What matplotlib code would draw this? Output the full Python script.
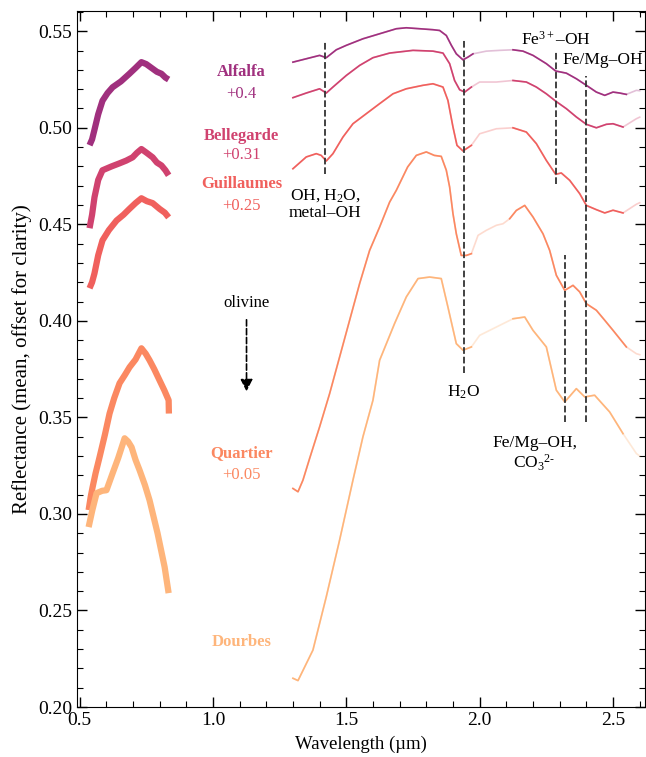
import numpy as np
import matplotlib.pyplot as plt
from matplotlib.ticker import MultipleLocator, FormatStrFormatter

plt.rcParams['font.family'] = 'Liberation Serif'
plt.rcParams['mathtext.fontset'] = 'custom'
plt.rcParams['mathtext.rm'] = 'Liberation Serif'
plt.rcParams['mathtext.it'] = 'Liberation Serif:italic'
plt.rcParams['mathtext.bf'] = 'Liberation Serif:bold'

names = ['Alfalfa', 'Bellegarde', 'Guillaumes', 'Quartier', 'Dourbes']
offsets = ['+0.4', '+0.31', '+0.25', '+0.05', '']
colors = ['#a0307e', '#d0426f', '#f0605d', '#fb8861', '#feb57b']

# VNIR part (noisy, drawn thick)
vnir_x = {
    'Alfalfa':    [0.5375, 0.547, 0.556, 0.57, 0.586, 0.605, 0.624, 0.655, 0.687, 0.71, 0.732, 0.75,
                   0.77, 0.79, 0.807, 0.822, 0.834],
    'Bellegarde': [0.5375, 0.547, 0.556, 0.57, 0.586, 0.62, 0.65, 0.675, 0.699, 0.715, 0.732, 0.752,
                   0.774, 0.79, 0.807, 0.822, 0.834],
    'Guillaumes': [0.5375, 0.547, 0.556, 0.57, 0.586, 0.61, 0.639, 0.665, 0.687, 0.71, 0.732, 0.752,
                   0.774, 0.80, 0.82, 0.834],
    'Quartier':   [0.534, 0.542, 0.549, 0.56, 0.575, 0.595, 0.6125, 0.63, 0.65, 0.67, 0.6875, 0.71,
                   0.732, 0.748, 0.7625, 0.78, 0.80, 0.818, 0.834, 0.835],
    'Dourbes':    [0.534, 0.548, 0.564, 0.585, 0.601, 0.624, 0.645, 0.669, 0.682, 0.695, 0.71, 0.725,
                   0.745, 0.7625, 0.7925, 0.819, 0.834],
}
vnir_y = {
    'Alfalfa':    [0.491, 0.494, 0.499, 0.507, 0.514, 0.518, 0.521, 0.524, 0.528, 0.531, 0.534, 0.533,
                   0.531, 0.529, 0.528, 0.526, 0.525],
    'Bellegarde': [0.448, 0.455, 0.464, 0.473, 0.478, 0.480, 0.4816, 0.483, 0.4847, 0.487, 0.489, 0.487,
                   0.4847, 0.482, 0.4805, 0.478, 0.4754],
    'Guillaumes': [0.4169, 0.420, 0.4246, 0.434, 0.4417, 0.447, 0.452, 0.455, 0.458, 0.461, 0.4635, 0.462,
                   0.461, 0.458, 0.456, 0.4536],
    'Quartier':   [0.302, 0.309, 0.3139, 0.321, 0.3294, 0.341, 0.352, 0.360, 0.3677, 0.372, 0.376, 0.380,
                   0.3858, 0.383, 0.3796, 0.375, 0.3692, 0.364, 0.3589, 0.352],
    'Dourbes':    [0.2932, 0.302, 0.3108, 0.312, 0.3123, 0.3211, 0.329, 0.3392, 0.3375, 0.3346, 0.328,
                   0.3227, 0.315, 0.3071, 0.290, 0.2725, 0.259],
}

# SWIR part
swir_x = {
    'Alfalfa':    [1.30, 1.40, 1.425, 1.4625, 1.50, 1.5625, 1.625, 1.6875, 1.725, 1.775, 1.825, 1.85,
                   1.875, 1.894, 1.9125, 1.9375, 1.956, 1.975, 2.025, 2.075, 2.125, 2.1625, 2.20, 2.25,
                   2.285, 2.325, 2.3625, 2.40, 2.4375, 2.469, 2.50, 2.525, 2.55, 2.5875, 2.60],
    'Bellegarde': [1.30, 1.35, 1.40, 1.425, 1.45, 1.50, 1.55, 1.60, 1.6625, 1.75, 1.825, 1.8625,
                   1.8875, 1.906, 1.925, 1.944, 1.969, 2.0, 2.0625, 2.125, 2.175, 2.2125, 2.25, 2.285,
                   2.325, 2.3625, 2.40, 2.4375, 2.475, 2.50, 2.5375, 2.5875, 2.60],
    'Guillaumes': [1.30, 1.35, 1.3875, 1.406, 1.425, 1.45, 1.4875, 1.525, 1.575, 1.625, 1.675, 1.725,
                   1.7875, 1.825, 1.8625, 1.881, 1.90, 1.915, 1.9375, 1.969, 2.0, 2.0625, 2.125, 2.175,
                   2.2125, 2.25, 2.285, 2.306, 2.3375, 2.375, 2.40, 2.4375, 2.469, 2.50, 2.5375, 2.5875,
                   2.60],
    'Quartier':   [1.30, 1.319, 1.3375, 1.3625, 1.40, 1.4375, 1.475, 1.5125, 1.55, 1.5875, 1.625, 1.6625,
                   1.6875, 1.73, 1.7625, 1.80, 1.83, 1.856, 1.875, 1.8875, 1.90, 1.9125, 1.931, 1.95,
                   1.969, 1.994, 2.025, 2.0625, 2.0875, 2.1125, 2.1375, 2.169, 2.20, 2.2375, 2.2625,
                   2.2875, 2.319, 2.35, 2.375, 2.40, 2.4375, 2.469, 2.50, 2.55, 2.5875, 2.60],
    'Dourbes':    [1.30, 1.319, 1.375, 1.425, 1.475, 1.525, 1.5625, 1.60, 1.625, 1.681, 1.725, 1.769,
                   1.8125, 1.856, 1.881, 1.9125, 1.9375, 1.969, 2.0, 2.0625, 2.125, 2.169, 2.20, 2.25,
                   2.2875, 2.319, 2.3625, 2.394, 2.431, 2.4875, 2.5375, 2.5875, 2.60],
}
swir_y = {
    'Alfalfa':    [0.5340, 0.5375, 0.5363, 0.5404, 0.5427, 0.5461, 0.5487, 0.5513, 0.5518, 0.5513, 0.5508,
                   0.5504, 0.5478, 0.5427, 0.5383, 0.5352, 0.5366, 0.5383, 0.5397, 0.5401, 0.5404, 0.5397,
                   0.5375, 0.5332, 0.5294, 0.5283, 0.5254, 0.5220, 0.5185, 0.5168, 0.5185, 0.5180, 0.5173,
                   0.5194, 0.5192],
    'Bellegarde': [0.5156, 0.5180, 0.5202, 0.5180, 0.5211, 0.5271, 0.5323, 0.5363, 0.5387, 0.5401, 0.5397,
                   0.5387, 0.5332, 0.5245, 0.5197, 0.5185, 0.5211, 0.5237, 0.5237, 0.5245, 0.5237, 0.5211,
                   0.5176, 0.5138, 0.5099, 0.5056, 0.5018, 0.5000, 0.5018, 0.5021, 0.5004, 0.5047, 0.5055],
    'Guillaumes': [0.4788, 0.4849, 0.4866, 0.4857, 0.4828, 0.4866, 0.4952, 0.5021, 0.5073, 0.5125, 0.5176,
                   0.5202, 0.5220, 0.5228, 0.5211, 0.5142, 0.5004, 0.4909, 0.4880, 0.4909, 0.4969, 0.4995,
                   0.5000, 0.4978, 0.4918, 0.4831, 0.4759, 0.4766, 0.4728, 0.4659, 0.4598, 0.4576, 0.4559,
                   0.4573, 0.4559, 0.4604, 0.4612],
    'Quartier':   [0.3132, 0.3115, 0.3175, 0.3287, 0.3451, 0.3623, 0.3813, 0.4003, 0.4193, 0.4365, 0.4486,
                   0.4615, 0.4676, 0.4797, 0.4857, 0.4875, 0.4857, 0.4852, 0.4780, 0.4693, 0.4555, 0.4451,
                   0.4339, 0.4339, 0.4348, 0.4443, 0.4469, 0.4495, 0.4503, 0.4529, 0.4572, 0.4598, 0.4538,
                   0.4451, 0.4365, 0.4236, 0.4158, 0.4184, 0.4150, 0.4089, 0.4055, 0.4003, 0.3951, 0.3865,
                   0.3830, 0.3825],
    'Dourbes':    [0.2149, 0.2137, 0.2295, 0.2571, 0.2865, 0.3175, 0.3400, 0.3589, 0.3796, 0.3986, 0.4124,
                   0.4219, 0.4227, 0.4219, 0.4072, 0.3882, 0.3848, 0.3865, 0.3925, 0.3968, 0.4011, 0.4020,
                   0.3951, 0.3865, 0.3641, 0.3580, 0.3649, 0.3606, 0.3615, 0.3528, 0.3416, 0.3313, 0.3300],
}

# label positions (y) for sample names and offsets
name_y = [0.5287, 0.496, 0.4707, 0.3315, 0.2336]
offset_y = [0.5173, 0.4857, 0.4593, 0.320, None]

# absorption features: x, ymin, ymax
feat_x = [1.42, 1.94, 2.285, 2.40, 2.32]
feat_lo = [0.476, 0.373, 0.471, 0.3475, 0.3475]
feat_hi = [0.545, 0.546, 0.540, 0.527, 0.434]

fig = plt.figure(figsize=(6.46, 7.57), dpi=100)
ax = fig.add_axes([0.119, 0.066, 0.8795, 0.9195])

for name, c in zip(names, colors):
    ax.plot(vnir_x[name], vnir_y[name], color=c, lw=4.5, solid_capstyle='butt')
    x = np.array(swir_x[name])
    y = np.array(swir_y[name])
    # faded parts of the spectrum
    pale = ((x > 1.98) & (x < 2.09)) | (x > 2.56)
    ax.plot(x, y, color=c, lw=1.2, alpha=0.3)
    ax.plot(x, np.ma.masked_where(pale, y), color=c, lw=1.2)

for i, name in enumerate(names):
    ax.text(1.107, name_y[i], name, color=colors[i], fontsize=12, fontweight='bold',
            ha='center', va='center')
    if offset_y[i] is not None:
        ax.text(1.107, offset_y[i], offsets[i], color=colors[i], fontsize=12,
                ha='center', va='center')

for fx, lo, hi in zip(feat_x, feat_lo, feat_hi):
    ax.plot([fx, fx], [lo, hi], color='#333333', ls='--', lw=1.3)

ax.text(1.42, 0.4605, 'OH, H$_2$O,\nmetal\u2013OH', fontsize=12.5, ha='center', va='center',
        linespacing=1.1)
ax.text(1.94, 0.363, 'H$_2$O', fontsize=12.5, ha='center', va='center')
ax.text(2.285, 0.5458, 'Fe$^{3+}$\u2013OH', fontsize=12.5, ha='center', va='center')
ax.text(2.461, 0.535, 'Fe/Mg\u2013OH', fontsize=12.5, ha='center', va='center')
ax.text(2.206, 0.331, 'Fe/Mg\u2013OH,\nCO$_3$$^{2\u2011}$', fontsize=12.5, ha='center', va='center',
        linespacing=1.1)

ax.text(1.126, 0.409, 'olivine', fontsize=12, ha='center', va='center')
ax.annotate('', xy=(1.126, 0.362), xytext=(1.126, 0.402),
            arrowprops=dict(arrowstyle='-|>', ls='--', color='black', lw=1.2,
                            mutation_scale=18))

ax.set_xlim(0.49, 2.62)
ax.set_ylim(0.20, 0.5605)
ax.xaxis.set_major_locator(MultipleLocator(0.5))
ax.xaxis.set_minor_locator(MultipleLocator(0.1))
ax.yaxis.set_major_locator(MultipleLocator(0.05))
ax.yaxis.set_minor_locator(MultipleLocator(0.01))
ax.xaxis.set_major_formatter(FormatStrFormatter('%.1f'))
ax.yaxis.set_major_formatter(FormatStrFormatter('%.2f'))
ax.tick_params(which='both', direction='in', top=True, right=True, labelsize=14)
ax.tick_params(which='major', length=7, width=1)
ax.tick_params(which='minor', length=4, width=0.8)

ax.set_xlabel('Wavelength (\u00b5m)', fontsize=13.5, labelpad=5)
ax.set_ylabel('Reflectance (mean, offset for clarity)', fontsize=15, labelpad=4)

fig.savefig('out.png', dpi=100)
